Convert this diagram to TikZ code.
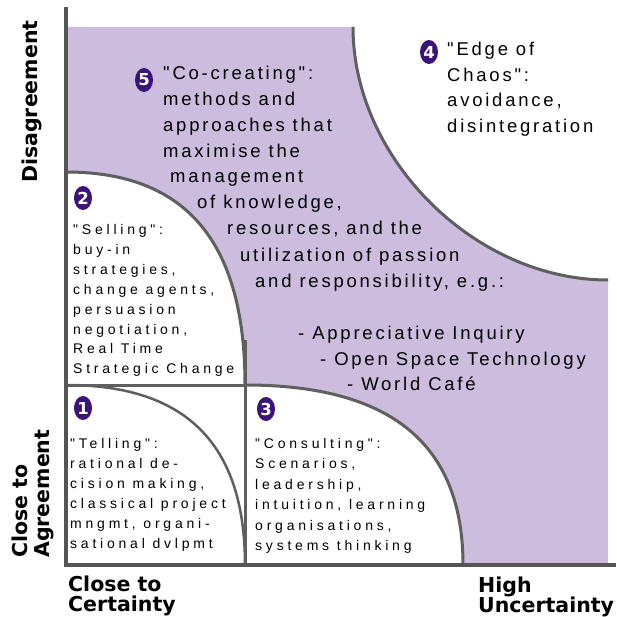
\documentclass[tikz,border=0pt]{standalone}
\usepackage{fontspec}
\setmainfont{Liberation Sans}
\newfontfamily\bigf[LetterSpace=15]{Liberation Sans}
\newfontfamily\smallf[LetterSpace=27]{Liberation Sans}
\newfontfamily\axf{DejaVu Sans}
\usetikzlibrary{shapes.geometric}
\definecolor{lav}{RGB}{204,189,222}
\definecolor{ln}{RGB}{95,95,95}
\definecolor{axc}{RGB}{85,85,85}
\definecolor{bp}{RGB}{58,20,120}
\begin{document}
\begin{tikzpicture}[x=1pt,y=-1pt,
  bigtxt/.style={anchor=base west,inner sep=0,font=\bigf\fontsize{18.5}{22}\selectfont},
  smtxt/.style={anchor=base west,inner sep=0,font=\smallf\fontsize{14}{18}\selectfont},
  axtxt/.style={anchor=base west,inner sep=0,font=\axf\bfseries\fontsize{20.5}{24}\selectfont},
  badge/.style={ellipse,fill=bp,minimum width=18pt,minimum height=24pt,inner sep=0,text=white,font=\axf\bfseries\fontsize{16.5}{18}\selectfont},
  divline/.style={draw=ln,line width=3pt},
  axisline/.style={draw=axc,line width=4pt}]
\useasboundingbox (0,0) rectangle (616,617);
% lavender field with the white "edge of chaos" corner cut out
\fill[lav] (66,27) -- (353,27) .. controls (353,159) and (475,280) .. (608,280) -- (608,565) -- (66,565) -- cycle;
% white regions
\fill[white] (66,385) -- (66,172) .. controls (186,172) and (245,242) .. (245,385) -- cycle;
\fill[white] (66,385) rectangle (245,565);
\fill[white] (245,565) -- (245,385) .. controls (391,385) and (463,444) .. (463,565) -- cycle;
% dividing curves and lines
\draw[divline] (353,27) .. controls (353,159) and (475,280) .. (608,280);
\draw[divline] (66,172) .. controls (186,172) and (245,242) .. (245,385);
\draw[divline] (245,385) .. controls (391,385) and (463,444) .. (463,565);
\draw[divline,line width=2.5pt] (66,385) .. controls (186,385) and (245,444) .. (245,565);
\draw[divline] (66,385) -- (245,385);
\draw[divline] (245,340) -- (245,565);
% axes
\draw[axisline] (66,7) -- (66,567);
\draw[axisline] (64,565) -- (616,565);
% badges
\node[badge] (b5) at (144,80) {5};
\node[badge] (b4) at (429,52) {4};
\node[badge] (b2) at (83,198) {2};
\node[badge] (b1) at (83,408) {1};
\node[badge] (b3) at (266,409) {3};
% co-creating text
\foreach \x/\y/\txt [count=\i] in {163/80/{"Co-creating":},163/106/{methods and},163/131.6/{approaches that},163/157.4/{maximise the},170/183/{management},197/209/{of knowledge,},227/235/{resources, and the},240/261/{utilization of passion},255/287/{and responsibility, e.g.:},298/339/{- Appreciative Inquiry},320/365/{- Open Space Technology},347/390/{- World Café}}
  {\node[bigtxt] (cc\i) at (\x,\y) {\txt};}
% edge of chaos
\foreach \y/\txt [count=\i] in {56/{"Edge of},82/{Chaos":},107/{avoidance,},133/{disintegration}}
  {\node[bigtxt] (ec\i) at (447,\y) {\txt};}
% selling
\foreach \txt [count=\i] in {{"Selling":},{buy-in},{strategies,},{change agents,},{persuasion},{negotiation,},{Real Time},{Strategic Change}}
  {\node[smtxt] (se\i) at (73,{235+19.8*(\i-1)}) {\txt};}
% telling
\foreach \txt [count=\i] in {{"Telling":},{rational de-},{cision making,},{classical project},{mngmt, organi-},{sational dvlpmt}}
  {\node[smtxt] (te\i) at (70,{448+20*(\i-1)}) {\txt};}
% consulting
\foreach \txt [count=\i] in {{"Consulting":},{Scenarios,},{leadership,},{intuition, learning},{organisations,},{systems thinking}}
  {\node[smtxt] (co\i) at (255,{448+20.5*(\i-1)}) {\txt};}
% axis labels
\node[axtxt] (xl1) at (68,591) {Close to};
\node[axtxt] (xl2) at (68,611) {Certainty};
\node[axtxt] (xr1) at (478,592) {High};
\node[axtxt] (xr2) at (478,612) {Uncertainty};
\node[axtxt,rotate=90] (yt) at (37,183) {Disagreement};
\node[axtxt,rotate=90] (yb1) at (27,558) {Close to};
\node[axtxt,rotate=90] (yb2) at (49,558) {Agreement};
\end{tikzpicture}
\end{document}
